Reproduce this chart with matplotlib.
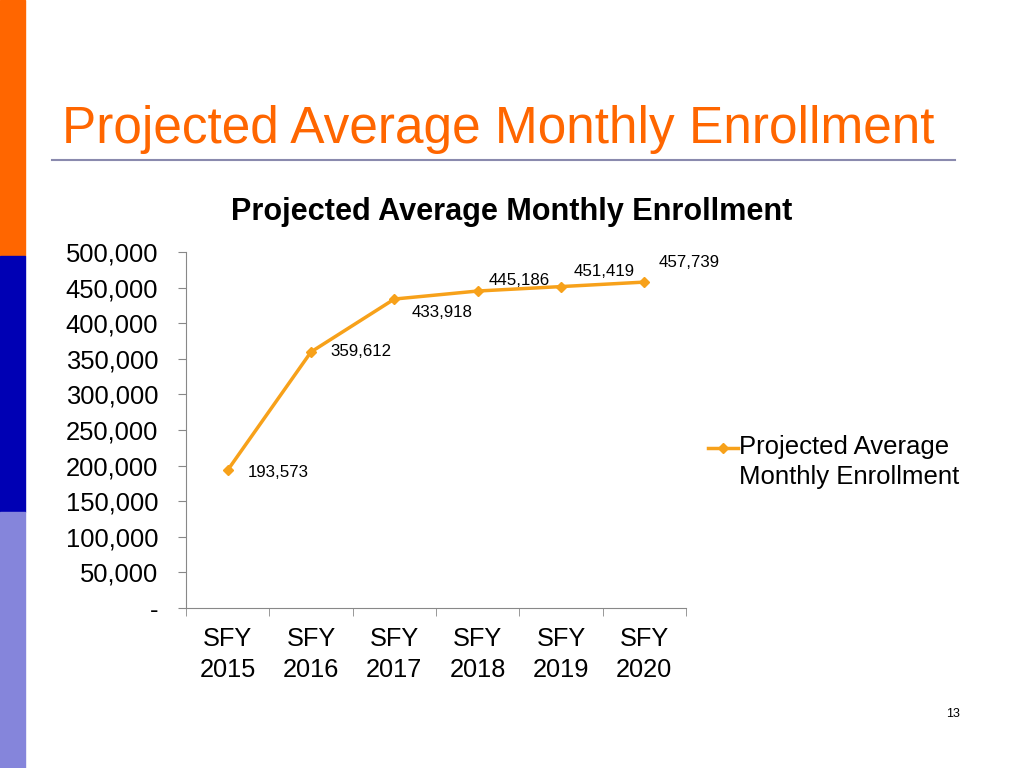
import matplotlib
matplotlib.use("Agg")
import matplotlib.pyplot as plt
from matplotlib.patches import Rectangle
from matplotlib.lines import Line2D
from matplotlib.ticker import FuncFormatter, FixedLocator
from matplotlib.legend_handler import HandlerLine2D

plt.rcParams['font.family'] = ['Liberation Sans', 'DejaVu Sans']

categories = ["SFY\n2015", "SFY\n2016", "SFY\n2017", "SFY\n2018", "SFY\n2019", "SFY\n2020"]
values = [193573, 359612, 433918, 445186, 451419, 457739]
series_name = "Projected Average\nMonthly Enrollment"
slide_title = "Projected Average Monthly Enrollment"
chart_title = "Projected Average Monthly Enrollment"
yticks = [0, 50000, 100000, 150000, 200000, 250000, 300000, 350000, 400000, 450000, 500000]

orange = "#F7A11A"
fig = plt.figure(figsize=(10.24, 7.68), dpi=100)

# left decorative bars
fig.patches.append(Rectangle((0, 2/3), 25/1024, 1/3, transform=fig.transFigure, color="#FF6600", zorder=0))
fig.patches.append(Rectangle((0, 1/3), 25/1024, 1/3, transform=fig.transFigure, color="#0000B4", zorder=0))
fig.patches.append(Rectangle((0, 0), 25/1024, 1/3, transform=fig.transFigure, color="#8585DB", zorder=0))

fig.text(62/1024, 1 - 143/768, slide_title, color="#FF6600", fontsize=37, ha="left", va="baseline")
fig.add_artist(Line2D([52/1024, 955/1024], [1 - 160/768, 1 - 160/768], color="#8A8AAE", lw=1.5))
fig.text(512/1024, 1 - 212/768, chart_title, fontsize=22.1, fontweight="bold", ha="center", va="center")
fig.text(953/1024, 1 - 714/768, "13", fontsize=9, ha="center", va="center")

ax = fig.add_axes([186/1024, 1 - 608/768, 500/1024, 356/768])
x = list(range(len(categories)))
ax.plot(x, values, color=orange, lw=2.5, marker="D", markersize=5, label=series_name)
ax.set_xlim(-0.5, len(categories) - 0.5)
ax.set_ylim(0, 500000)
for s in ["top", "right"]:
    ax.spines[s].set_visible(False)
for s in ["left", "bottom"]:
    ax.spines[s].set_color("#888888")
ax.set_yticks(yticks)
ax.yaxis.set_major_formatter(FuncFormatter(lambda v, p: "-" if v == 0 else f"{int(v):,}"))
ax.tick_params(axis="y", length=6, color="#888888", labelsize=18.4, pad=14)
ax.set_xticks(x)
ax.set_xticklabels(categories)
ax.tick_params(axis="x", which="major", length=0, labelsize=18.3, pad=14)
ax.xaxis.set_minor_locator(FixedLocator([i - 0.5 for i in range(len(categories) + 1)]))
ax.tick_params(axis="x", which="minor", length=6, color="#888888")
for lbl in ax.get_xticklabels():
    lbl.set_linespacing(1.35)

offsets = [(20, -2, "left", "center"), (19, 0, "left", "center"),
           (17, -13, "left", "center"), (42, 11, "center", "center"),
           (43, 15, "center", "center"), (45, 20, "center", "center")]
for i, v in enumerate(values):
    dx, dy, ha, va = offsets[i]
    ax.annotate(f"{v:,}", (i, v), xytext=(dx, dy), textcoords="offset pixels",
                ha=ha, va=va, fontsize=12.2)


class TopLineHandler(HandlerLine2D):
    def create_artists(self, legend, orig_handle, xdescent, ydescent, width, height, fontsize, trans):
        return super().create_artists(legend, orig_handle, xdescent, ydescent - 21.0,
                                      width, height, fontsize, trans)


leg = fig.legend(loc="center left", bbox_to_anchor=(708/1024, 1 - 462/768), frameon=False,
                 fontsize=18.5, handlelength=1.15, handletextpad=0.05, borderpad=0,
                 borderaxespad=0, handler_map={Line2D: TopLineHandler()})
for t in leg.get_texts():
    t.set_linespacing(1.3)

fig.savefig("out.png", dpi=100)
